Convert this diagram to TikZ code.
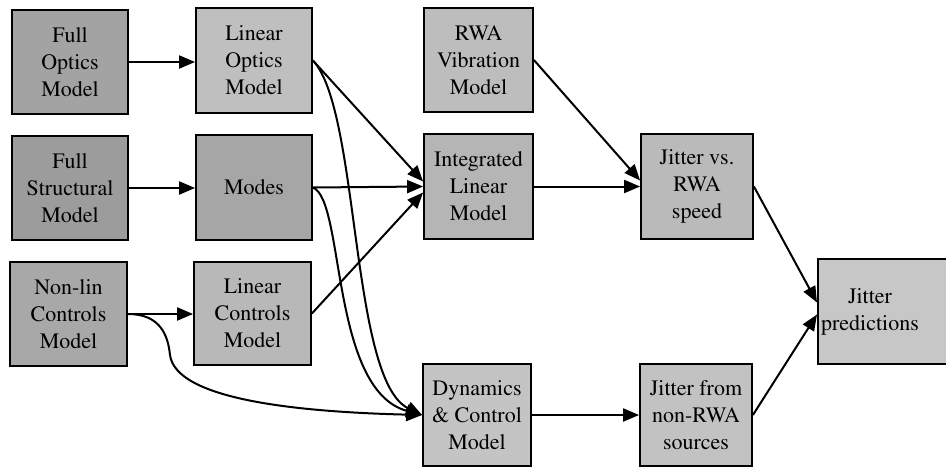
\documentclass[tikz,border=0pt]{standalone}
\usepackage[T1]{fontenc}
\usepackage{times}
\usetikzlibrary{arrows.meta,calc}
\definecolor{gA}{gray}{0.64}
\definecolor{gB}{gray}{0.61}
\definecolor{gC}{gray}{0.66}
\definecolor{gD}{gray}{0.75}
\definecolor{gE}{gray}{0.65}
\definecolor{gF}{gray}{0.72}
\definecolor{gG}{gray}{0.74}
\definecolor{gH}{gray}{0.71}
\definecolor{gI}{gray}{0.77}
\definecolor{gJ}{gray}{0.73}
\definecolor{gK}{gray}{0.76}
\definecolor{gL}{gray}{0.78}
\begin{document}
\begin{tikzpicture}[x=1pt,y=-1pt,
  box/.style={draw=black, line width=1.8pt, minimum width=116pt, minimum height=104pt,
    inner sep=0pt, align=center, font=\rmfamily\fontsize{22}{27}\selectfont},
  narrow/.style={minimum width=109pt},
  mid/.style={minimum width=112pt},
  lbl/.style={inner sep=0pt, align=center, font=\rmfamily\fontsize{22}{27}\selectfont},
  conn/.style={line width=2pt, -{Triangle[length=16pt,width=13pt]}}]
\useasboundingbox (0,0) rectangle (946,467);
\fill[white] (0,0) rectangle (946,467);

% column 1
\node[box, fill=gA] (fo) at (70,62) {Full\\Optics\\Model};
\node[box, fill=gB] (fs) at (70,188) {Full\\Structural\\Model};
\node[box, fill=gC, minimum width=117pt] (nl) at (68.5,314) {Non-lin\\Controls\\Model};
% column 2
\node[box, fill=gD, minimum height=105pt] (lo) at (254,60.5) {Linear\\Optics\\Model};
\node[box, fill=gE, minimum height=105pt] (mo) at (254,187.5) {Modes};
\node[box, fill=gF, minimum width=117pt, minimum height=103pt] (lc) at (252.5,313.5) {Linear\\Controls\\Model};
% column 3
\node[box, narrow, fill=gG] (rwa) at (478.5,60) {RWA\\Vibration\\Model};
\node[box, narrow, fill=gH, minimum height=105pt] (il) at (478.5,186.5) {Integrated\\Linear\\Model};
\node[box, minimum width=108pt, fill=gI, minimum height=102pt] (dc) at (477,415) {Dynamics\\\&~Control\\Model};
% column 4
\node[box, mid, fill=gJ, minimum height=105pt] (jv) at (697,186.5) {Jitter vs.\\RWA\\speed};
\node[box, mid, fill=gK, minimum height=102pt] (jn) at (696,415) {Jitter from\\non-RWA\\sources};
% column 5
\node[box, fill=gL, minimum width=143pt, minimum height=105pt, anchor=west] (jp) at (817,311.5) {};
\node[lbl] (jpt) at (870,311.5) {Jitter\\predictions};

% connectors
\draw[conn] (fo.east) -- (lo.west |- fo.east);
\draw[conn] (fs.east) -- (mo.west |- fs.east);
\draw[conn] (nl.east) -- (lc.west |- nl.east);

\draw[conn] (lo.east) -- ($(il.west)+(0,-5)$);
\draw[conn] (mo.east) -- (il.west);
\draw[conn] (lc.east) -- ($(il.west)+(0,6)$);

\draw[conn] (lo.east) .. controls (360,110) and (350,380) .. (dc.west);
\draw[conn] (mo.east) .. controls (345,200) and (330,390) .. (dc.west);
\draw[conn] (nl.east) .. controls (160,314) and (168,335) .. (170,355)
  .. controls (176,400) and (300,412) .. (dc.west);

\draw[conn] (rwa.east) -- ($(jv.west)+(0,-6)$);
\draw[conn] (il.east) -- (jv.west);
\draw[conn] (dc.east) -- (jn.west);

\draw[conn] (jv.east) -- ($(jp.west)+(0,-9)$);
\draw[conn] (jn.east) -- ($(jp.west)+(0,3)$);
\end{tikzpicture}
\end{document}
